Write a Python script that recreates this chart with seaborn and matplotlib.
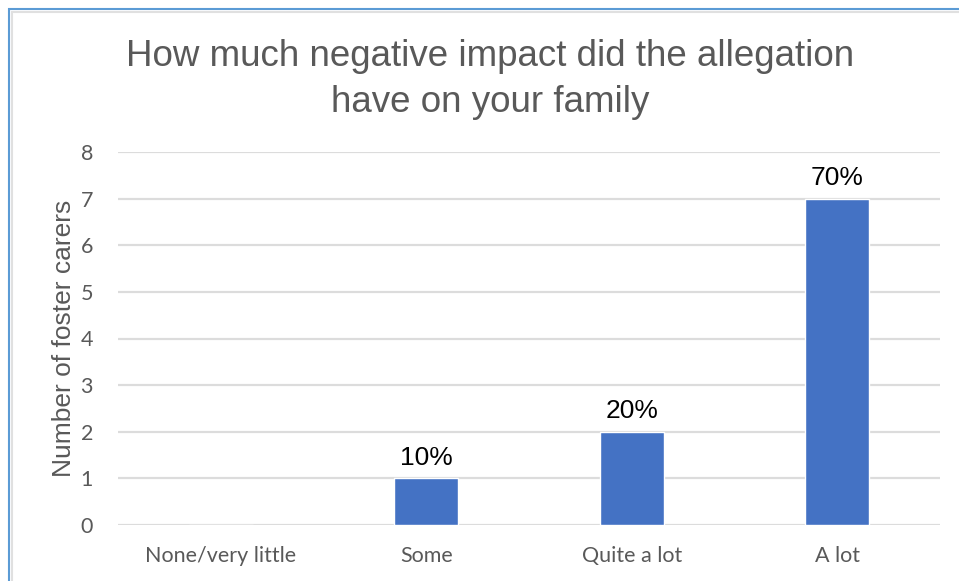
import matplotlib
matplotlib.use("Agg")
import matplotlib.pyplot as plt
import seaborn as sns
import pandas as pd
from matplotlib.patches import Rectangle

categories = ["None/very little", "Some", "Quite a lot", "A lot"]
counts = [0, 1, 2, 7]
pct_labels = ["", "10%", "20%", "70%"]
y_ticks = [0, 1, 2, 3, 4, 5, 6, 7, 8]

sns.set_theme(style="white")
plt.rcParams['font.family'] = ['Liberation Sans', 'DejaVu Sans']

W, H = 959, 581
fig = plt.figure(figsize=(W/100, H/100), dpi=100)
ax = fig.add_axes([118/W, (H-525)/H, (940-118)/W, (525-152)/H])

df = pd.DataFrame({"cat": categories, "n": counts})
sns.barplot(data=df, x="cat", y="n", ax=ax, color="#4472C4", saturation=1, width=0.31, zorder=3)

ax.set_ylim(0, 8)
ax.set_yticks(y_ticks)
ax.set_xlim(-0.5, 3.5)
ax.grid(axis="y", color="#DCDCDC", linewidth=1.6, zorder=0)
for s in ax.spines.values():
    s.set_visible(False)
ax.tick_params(axis="both", length=0)
ax.tick_params(axis="y", pad=18, labelsize=15.5, labelcolor="#595959")
ax.tick_params(axis="x", pad=15, labelsize=15.5, labelcolor="#595959")
for lab in ax.get_xticklabels() + ax.get_yticklabels():
    lab.set_fontfamily(['Lato', 'DejaVu Sans'])
ax.set_xlabel("")
ax.set_ylabel("Number of foster carers", fontsize=19, color="#595959", labelpad=3)

for i, (v, t) in enumerate(zip(counts, pct_labels)):
    if t:
        ax.text(i, v + 0.18, t, ha="center", va="bottom", fontsize=19, color="black")

fig.text(490/W, 1 - 57/H, "How much negative impact did the allegation", ha="center", va="center",
         fontsize=26.5, color="#595959")
fig.text(490/W, 1 - 102/H, "have on your family", ha="center", va="center",
         fontsize=26.5, color="#595959")

fig.patches.append(Rectangle((9/W, -0.1), 1.2, (H-9)/H + 0.1, transform=fig.transFigure,
                             fill=False, edgecolor="#5B9BD5", linewidth=1.5))
fig.patches.append(Rectangle((12/W, -0.1), 1.2, (H-12)/H + 0.1, transform=fig.transFigure,
                             fill=False, edgecolor="#E0E0E0", linewidth=1.5))

fig.savefig("out.png", dpi=100)
